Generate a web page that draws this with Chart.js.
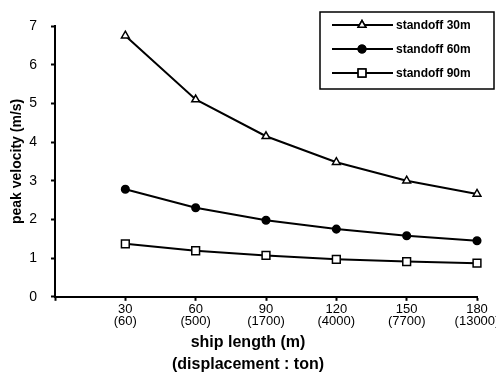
<!DOCTYPE html>
<html>
<head>
<meta charset="utf-8">
<script src="https://cdn.jsdelivr.net/npm/chart.js@4/dist/chart.umd.min.js"></script>
<style>
  html, body { margin: 0; padding: 0; background: #fff; }
  #wrap { width: 496px; height: 375px; }
</style>
</head>
<body>
<div id="wrap"><canvas id="chart" width="496" height="375"></canvas></div>
<script>
// ship length (m) with displacement (ton); first slot left empty like the original
const lengths = ['', '30', '60', '90', '120', '150', '180'];
const displacements = ['', '(60)', '(500)', '(1700)', '(4000)', '(7700)', '(13000)'];

const standoff30 = [null, 6.75, 5.1, 4.15, 3.48, 3.0, 2.66];
const standoff60 = [null, 2.78, 2.3, 1.98, 1.75, 1.58, 1.45];
const standoff90 = [null, 1.37, 1.19, 1.07, 0.97, 0.91, 0.87];

const yTicks = [0, 1, 2, 3, 4, 5, 6, 7];

const font = "'Liberation Sans', Arial, sans-serif";

// legend drawn as a boxed panel inside the plot, like the original
const boxLegend = {
    id: 'boxLegend',
    afterDraw(chart) {
        const ctx = chart.ctx;
        const x0 = 320, y0 = 12, w = 174, h = 77;
        ctx.save();
        ctx.strokeStyle = '#000';
        ctx.lineWidth = 1.5;
        ctx.strokeRect(x0, y0, w, h);
        chart.data.datasets.forEach((ds, i) => {
            const y = y0 + 13 + i * 24;
            ctx.beginPath();
            ctx.lineWidth = 2;
            ctx.moveTo(x0 + 12, y);
            ctx.lineTo(x0 + 73, y);
            ctx.stroke();
            ctx.lineWidth = ds.pointBorderWidth;
            Chart.helpers.drawPoint(ctx, {
                pointStyle: ds.pointStyle,
                radius: ds.pointRadius,
                borderWidth: ds.pointBorderWidth
            }, x0 + 42, y);
            ctx.fillStyle = ds.pointBackgroundColor;
            ctx.strokeStyle = '#000';
            ctx.fill();
            ctx.stroke();
            ctx.fillStyle = '#000';
            ctx.font = 'bold 12px ' + font;
            ctx.textBaseline = 'middle';
            ctx.fillText(ds.label, x0 + 76, y + 1);
        });
        ctx.restore();
    }
};

const makeSet = (label, data, style, radius, fill) => ({
    label: label,
    data: data,
    borderColor: '#000',
    borderWidth: 2,
    pointStyle: style,
    pointRadius: radius,
    pointBorderWidth: 1.5,
    pointBorderColor: '#000',
    pointBackgroundColor: fill,
    tension: 0
});

new Chart(document.getElementById('chart'), {
    type: 'line',
    data: {
        labels: lengths,
        datasets: [
            makeSet('standoff 30m', standoff30, 'triangle', 4.5, '#fff'),
            makeSet('standoff 60m', standoff60, 'circle', 3.8, '#000'),
            makeSet('standoff 90m', standoff90, 'rect', 5.5, '#fff')
        ]
    },
    options: {
        responsive: false,
        animation: false,
        layout: { padding: { left: 0, top: 26, right: 0, bottom: 0 } },
        plugins: {
            legend: { display: false },
            tooltip: { enabled: false },
            title: {
                display: true,
                position: 'bottom',
                text: ['ship length (m)', '(displacement : ton)'],
                color: '#000',
                font: { family: font, size: 16, weight: 'bold', lineHeight: 1.35 },
                padding: { top: 0, bottom: 0 }
            }
        },
        scales: {
            x: {
                offset: false,
                grid: { display: true, drawOnChartArea: false, drawTicks: true, tickLength: 4, tickColor: '#000', tickWidth: 2 },
                border: { display: true, color: '#000', width: 2 },
                ticks: {
                    color: '#000',
                    font: { family: font, size: 13, lineHeight: 0.95 },
                    maxRotation: 0,
                    autoSkip: false,
                    padding: 2,
                    callback: (v, i) => lengths[i] ? [lengths[i], displacements[i]] : ''
                },
                afterFit: s => { s.height = 35; s.paddingLeft = 0; s.paddingRight = 19; }
            },
            y: {
                min: 0,
                max: 7,
                afterBuildTicks: s => { s.ticks = yTicks.map(v => ({ value: v })); },
                grid: { display: true, drawOnChartArea: false, drawTicks: true, tickLength: 4, tickColor: '#000', tickWidth: 2 },
                border: { display: true, color: '#000', width: 2 },
                ticks: {
                    color: '#000',
                    font: { family: font, size: 14 },
                    padding: 14
                },
                title: {
                    display: true,
                    text: 'peak velocity (m/s)',
                    color: '#000',
                    font: { family: font, size: 14, weight: 'bold' },
                    padding: { top: 9, bottom: 0 }
                },
                afterFit: s => { s.width = 55; s.paddingTop = 0; s.paddingBottom = 0; }
            }
        }
    },
    plugins: [boxLegend]
});
</script>
</body>
</html>
